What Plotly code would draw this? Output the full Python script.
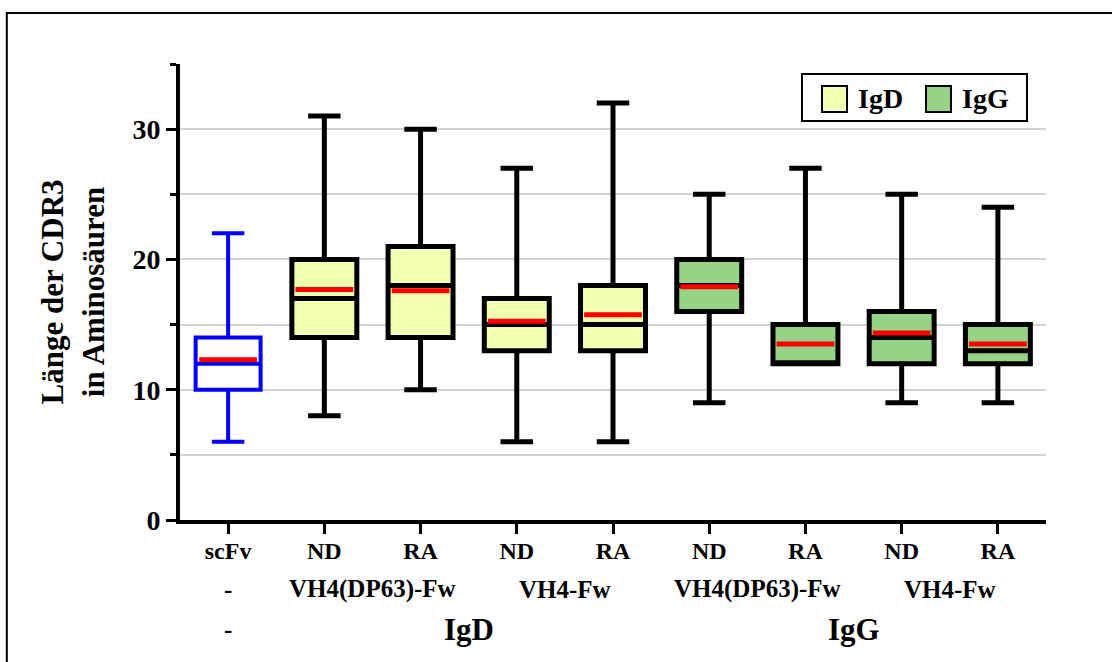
import plotly.graph_objects as go

# CDR3 length summary per group (min, quartiles, median, max, mean)
categories = ["scFv", "ND", "RA", "ND", "RA", "ND", "RA", "ND", "RA"]
framework = ["-", "VH4(DP63)-Fw", "VH4-Fw", "VH4(DP63)-Fw", "VH4-Fw"]
framework_pos = [0, 1.5, 3.5, 5.5, 7.5]
isotype_labels = ["-", "IgD", "IgG"]
isotype_pos = [0, 2.5, 6.5]
isotype = ["-", "IgD", "IgD", "IgD", "IgD", "IgG", "IgG", "IgG", "IgG"]
legend_names = ["IgD", "IgG"]

mins = [6, 8, 10, 6, 6, 9, 12, 9, 9]
q1 = [10, 14, 14, 13, 13, 16, 12, 12, 12]
medians = [12, 17, 18, 15, 15, 18, 12, 14, 13]
q3 = [14, 20, 21, 17, 18, 20, 15, 16, 15]
maxs = [22, 31, 30, 27, 32, 25, 27, 25, 24]
means = [12.3, 17.7, 17.6, 15.25, 15.75, 17.9, 13.5, 14.35, 13.5]

fills = {"-": "#FFFFFF", "IgD": "#F2FFB0", "IgG": "#96D387"}
edges = {"-": "#0000FF", "IgD": "#000000", "IgG": "#000000"}

FONT = "Liberation Serif"
BOX_W = 0.675
positions = list(range(len(categories)))

# plot-area geometry (pixels) used to place the legend and frame in paper units
L, R, T, B = 180, 1046, 64, 520


def px(xp):
    return (xp - L) / (R - L)


def py(yp):
    return (B - yp) / (B - T)


fig = go.Figure()

for i, pos in enumerate(positions):
    iso = isotype[i]
    fig.add_trace(go.Box(
        x=[pos], q1=[q1[i]], median=[medians[i]], q3=[q3[i]],
        lowerfence=[mins[i]], upperfence=[maxs[i]],
        width=BOX_W, whiskerwidth=0.5,
        fillcolor=fills[iso],
        line=dict(color=edges[iso], width=5 if iso != "-" else 4),
        boxpoints=False, showlegend=False, hoverinfo="skip",
    ))

# mean markers (red bars across each box)
for i, pos in enumerate(positions):
    fig.add_trace(go.Scatter(
        x=[pos - 0.3, pos + 0.3], y=[means[i], means[i]],
        mode="lines", line=dict(color="#FF0000", width=5),
        showlegend=False, hoverinfo="skip",
    ))

annotations = []
for txt, p in zip(framework, framework_pos):
    annotations.append(dict(x=p, y=py(589), xref="x", yref="paper", text=txt,
                            showarrow=False, yanchor="middle",
                            font=dict(family=FONT, size=25, color="black", weight="bold")))
for txt, p in zip(isotype_labels, isotype_pos):
    annotations.append(dict(x=p, y=py(629), xref="x", yref="paper", text=txt,
                            showarrow=False, yanchor="middle",
                            font=dict(family=FONT, size=25 if txt == "-" else 31,
                                      color="black", weight="bold")))

# legend: framed key with two swatches
shapes = [
    dict(type="rect", xref="paper", yref="paper",
         x0=-0.2, x1=1.09, y0=-0.35, y1=py(13),
         line=dict(color="black", width=2), fillcolor="rgba(0,0,0,0)", layer="below"),
    dict(type="rect", xref="paper", yref="paper",
         x0=px(802), x1=px(1027), y0=py(121), y1=py(74),
         line=dict(color="black", width=2), fillcolor="white", layer="above"),
]
for k, name in enumerate(legend_names):
    x0 = 822 + k * 104
    shapes.append(dict(type="rect", xref="paper", yref="paper",
                       x0=px(x0), x1=px(x0 + 25), y0=py(112), y1=py(86),
                       line=dict(color="black", width=2), fillcolor=fills[name],
                       layer="above"))
    annotations.append(dict(x=px(x0 + 34), y=py(99), xref="paper", yref="paper",
                            text=name, showarrow=False, xanchor="left", yanchor="middle",
                            font=dict(family=FONT, size=28, color="black", weight="bold")))

fig.update_layout(
    width=1112, height=662,
    margin=dict(l=L, r=1112 - R, t=T, b=662 - B),
    paper_bgcolor="white", plot_bgcolor="white",
    font=dict(family=FONT, color="black"),
    showlegend=False,
    annotations=annotations,
    shapes=shapes,
)

fig.update_xaxes(
    range=[-0.5, 8.5], tickmode="array", tickvals=positions, ticktext=categories,
    showline=True, linecolor="black", linewidth=4,
    ticks="outside", ticklen=10, tickwidth=3, tickcolor="black",
    tickfont=dict(family=FONT, size=24, color="black", weight="bold"),
    ticklabelstandoff=-4,
    showgrid=False, zeroline=False,
)
fig.update_yaxes(
    range=[0, 35], tickmode="array", tickvals=[0, 10, 20, 30],
    showline=True, linecolor="black", linewidth=4,
    ticks="outside", ticklen=10, tickwidth=3, tickcolor="black",
    tickfont=dict(family=FONT, size=28, color="black", weight="bold"),
    showgrid=True, gridcolor="#D3D3D3", gridwidth=2, zeroline=False,
    minor=dict(tickvals=[5, 15, 25, 35], ticks="outside", ticklen=6, tickwidth=3,
               tickcolor="black", showgrid=True, gridcolor="#D3D3D3", gridwidth=2),
    title=dict(text="Länge der CDR3<br>in Aminosäuren", standoff=20,
               font=dict(family=FONT, size=31, color="black", weight="bold")),
)

fig.write_html("out.html")
